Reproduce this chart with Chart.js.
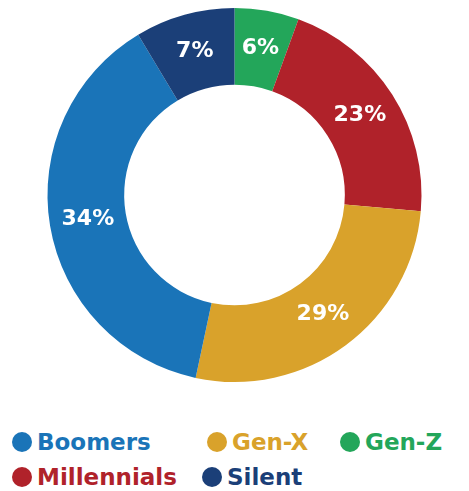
<!DOCTYPE html>
<html>
<head>
<meta charset="utf-8">
<script src="https://cdn.jsdelivr.net/npm/chart.js@4"></script>
<style>
body { margin: 0; background: #fff; font-family: "DejaVu Sans", sans-serif; }
#wrap { position: relative; width: 469px; height: 390px; }
#legend { position: relative; width: 469px; height: 101px; }
.item { position: absolute; display: flex; align-items: center; height: 26px; line-height: 26px; font-weight: bold; font-size: 23px; }
.dot { width: 20px; height: 20px; border-radius: 50%; margin-right: 5px; flex: none; }
</style>
</head>
<body>
<div id="wrap"><canvas id="donut"></canvas></div>
<div id="legend"></div>
<script>
// slices clockwise from 12 o'clock
const labels = ['Gen-Z', 'Millennials', 'Gen-X', 'Boomers', 'Silent'];
// printed percentages
const pctText = ['6%', '23%', '29%', '34%', '7%'];
// arc sizes as drawn in the picture (degrees), the graphic isn't exactly proportional
const arcSizes = [20, 75, 97, 137, 31];
const colors = ['#23a65a', '#b0222a', '#d9a22b', '#1a74b8', '#1b3f78'];

// legend order as in the picture
const legendOrder = ['Boomers', 'Gen-X', 'Gen-Z', 'Millennials', 'Silent'];
const legendPos = [[12, 52], [207, 52], [340, 52], [12, 87], [202, 87]];

const pctLabels = {
  id: 'pctLabels',
  afterDatasetsDraw(chart) {
    const ctx = chart.ctx;
    const meta = chart.getDatasetMeta(0);
    ctx.save();
    ctx.fillStyle = '#fff';
    ctx.font = 'bold 22px "DejaVu Sans", sans-serif';
    ctx.textAlign = 'center';
    ctx.textBaseline = 'middle';
    meta.data.forEach((arc, i) => {
      const p = arc.tooltipPosition();
      ctx.fillText(pctText[i], p.x, p.y);
    });
    ctx.restore();
  }
};

new Chart(document.getElementById('donut'), {
  type: 'doughnut',
  data: {
    labels: labels,
    datasets: [{
      data: arcSizes,
      backgroundColor: colors,
      borderWidth: 0
    }]
  },
  options: {
    responsive: true,
    maintainAspectRatio: false,
    animation: false,
    cutout: '59%',
    layout: { padding: 8 },
    plugins: { legend: { display: false }, tooltip: { enabled: false } }
  },
  plugins: [pctLabels]
});

var legend = document.getElementById('legend');
legendOrder.forEach((name, k) => {
  var i = labels.indexOf(name);
  var el = document.createElement('div');
  el.className = 'item';
  el.style.left = legendPos[k][0] + 'px';
  el.style.top = (legendPos[k][1] - 13) + 'px';
  el.style.color = colors[i];
  el.innerHTML = '<span class="dot" style="background:' + colors[i] + '"></span>' + name;
  legend.appendChild(el);
});
</script>
</body>
</html>
